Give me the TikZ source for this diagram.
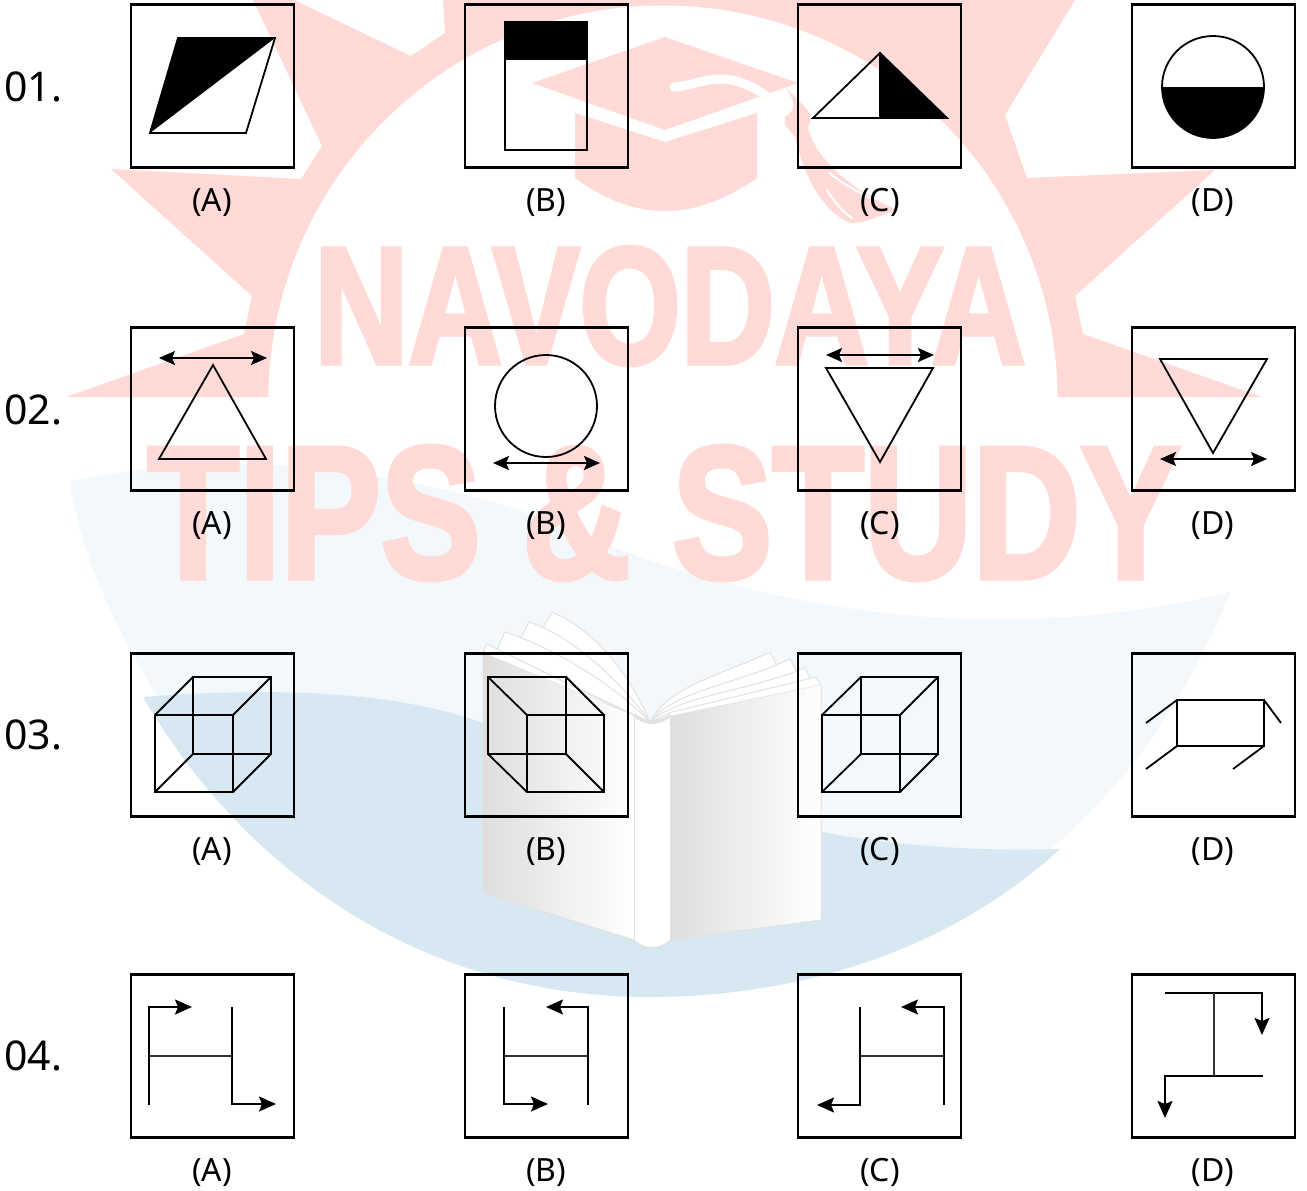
\documentclass[tikz,border=0pt]{standalone}
\usepackage{fontspec}
\usepackage{graphicx}
\setmainfont{Noto Sans}
\newfontfamily\wmfont[BoldFeatures={FakeBold=3}]{Liberation Sans}
\usetikzlibrary{arrows.meta}
\definecolor{wmpink}{HTML}{FFDAD6}
\definecolor{wmlight}{HTML}{F2F8FB}
\definecolor{wmblue}{HTML}{D8E8F3}
\definecolor{bookedge}{HTML}{E2E2E2}
\definecolor{bookdark}{HTML}{DEDEDE}
\tikzset{
  panel/.style={draw=black,line width=2.4pt,minimum size=163pt,inner sep=0pt,outer sep=0pt},
  optlabel/.style={font=\fontsize{32}{32}\selectfont,inner sep=0pt,text height=24pt,text depth=7pt},
  qnum/.style={font=\fontsize{41}{41}\selectfont,inner sep=0pt,anchor=west},
  figline/.style={draw=black,line width=1.8pt,line join=miter},
  thinline/.style={draw=black!80,line width=1.2pt},
  bigtip/.style={-{Stealth[length=17pt,width=15pt,inset=3pt]}},
  dbltip/.style={{Stealth[length=16pt,width=14pt,inset=3pt]}-{Stealth[length=16pt,width=14pt,inset=3pt]}},
  pagefill/.style={fill=white,draw=bookedge,line width=1pt,line join=round},
  wmtext/.style={text=wmpink,inner sep=0pt,font=\wmfont\bfseries}
}
\begin{document}
\begin{tikzpicture}[x=1pt,y=-1pt]
\useasboundingbox (0,0) rectangle (1307,1191);
\fill[white] (0,0) rectangle (1307,1191);
% watermark star and disc
\fill[wmpink] (253,0) -- (322,146) -- (301,179) -- (111,169) -- (252,296) -- (244,334) -- (66,397) -- (1262,397) -- (1083,334) -- (1075,296) -- (1215,170) -- (1027,178) -- (1005,115) -- (1075,0) -- (443,0) -- (445,33) -- (411,56) -- (294,0) -- cycle;
\fill[white] (663,400) circle[radius=394.5];
% cap
\fill[wmpink] (532,83) -- (665,37) -- (798,83) -- (665,130) -- cycle;
\fill[wmpink] (575,113) -- (665,142) -- (757,113) -- (757,178) .. controls (725,200) and (695,211) .. (665,211) .. controls (635,211) and (605,200) .. (575,178) -- cycle;
\draw[white,line width=9pt,line cap=round] (674,87) .. controls (700,85) and (715,72) .. (745,84) .. controls (765,92) and (778,105) .. (792,124);
\fill[wmpink] (787,89) -- (803,105) .. controls (811,112) and (812,120) .. (808,127) .. controls (812,150) and (840,185) .. (897,210) -- (863,222) -- (852,223) .. controls (825,215) and (805,180) .. (795,137) -- (785,125) -- (785,117) .. controls (790,112) and (800,110) .. cycle;
\draw[white,line width=2pt,line cap=round] (829,173) .. controls (845,185) and (858,192) .. (870,198);
\draw[white,line width=2pt,line cap=round] (827,190) .. controls (835,203) and (843,212) .. (852,218);
% waves
\fill[wmlight] (70,482) .. controls (180,455) and (340,455) .. (520,510) .. controls (700,590) and (950,660) .. (1230,592) .. controls (1130,850) and (900,997) .. (650,997) .. controls (300,1000) and (90,640) .. (70,482) -- cycle;
\fill[wmblue] (143,697) .. controls (300,685) and (420,695) .. (500,730) .. controls (620,785) and (740,820) .. (822,832) .. controls (880,843) and (960,852) .. (1060,849) .. controls (950,950) and (800,997) .. (650,997) .. controls (430,997) and (250,880) .. (143,697) -- cycle;
% watermark text
\node[wmtext,anchor=center] (wmone) at (670,306) {\resizebox{711pt}{116pt}{NAVODAYA}};
\node[wmtext,anchor=center] (wmtwo) at (664,513) {\resizebox{1033pt}{131pt}{TIPS \& STUDY}};
% book pages
\draw[pagefill] (552,612) .. controls (590,628) and (625,665) .. (650,722) -- (543,628) -- cycle;
\draw[pagefill] (529,622) .. controls (570,635) and (620,680) .. (650,722) -- (520,640) -- cycle;
\draw[pagefill] (505,632) .. controls (560,650) and (620,690) .. (650,722) -- (497,650) -- cycle;
\draw[pagefill] (487,644) -- (627,713) -- (650,722) -- (634,716) -- (483,653) -- cycle;
\draw[pagefill] (770,652) .. controls (720,676) and (670,685) .. (650,722) -- (778,668) -- cycle;
\draw[pagefill] (790,659) .. controls (735,685) and (675,690) .. (650,722) -- (797,672) -- cycle;
\draw[pagefill] (805,668) .. controls (745,692) and (680,695) .. (650,722) -- (811,680) -- cycle;
\draw[pagefill] (816,677) -- (672,712) -- (650,722) -- (672,716) -- (821,685) -- cycle;
% book covers
\shade[left color=bookdark,right color=white] (483,653) -- (634,716) -- (634,940) -- (483,893) -- cycle;
\shade[left color=bookdark,right color=white] (670,717) -- (821,685) -- (821,920) -- (670,941) -- cycle;
\fill[white] (634,715) .. controls (645,725) and (660,725) .. (670,715) -- (670,940) .. controls (662,950) and (642,950) .. (634,940) -- cycle;
\draw[bookedge,line width=1pt] (483,653) -- (483,893) -- (634,940) .. controls (642,950) and (662,950) .. (670,940) -- (821,920) -- (821,685);
\draw[bookedge,line width=1pt] (634,715) -- (634,940) (670,717) -- (670,940);
\draw[bookedge,line width=3pt] (634,715) .. controls (645,725) and (660,725) .. (670,715);
% panels
\foreach \cx/\l in {212.5/a,546.5/b,879.5/c,1213.5/d}{
  \foreach \cy/\r in {86/1,409/2,735/3,1056/4}{
    \node[panel] (\l\r) at (\cx,\cy) {};
  }
}
\foreach \cx/\l/\t in {212/a/A,546/b/B,880/c/C,1213/d/D}{
  \foreach \cy/\r in {202.5/1,525.5/2,851.5/3,1172.5/4}{
    \node[optlabel] (t\l\r) at (\cx,\cy) {(\t)};
  }
}
\node[qnum] (q1) at (4,87) {01.};
\node[qnum] (q2) at (4,410) {02.};
\node[qnum] (q3) at (4,735) {03.};
\node[qnum] (q4) at (4,1056) {04.};
% row 1
\fill[black] (178,38) -- (275,38) -- (150,133) -- cycle;
\draw[figline] (178,38) -- (275,38) -- (246,133) -- (150,133) -- cycle;
\draw[figline] (505,22) rectangle (587,150);
\fill[black] (505,22) rectangle (587,60);
\fill[black] (880,53) -- (947,118) -- (880,118) -- cycle;
\draw[figline] (813,118) -- (880,53) -- (947,118) -- cycle;
\draw[figline] (880,53) -- (880,118);
\fill[black] (1162,87) arc[start angle=180,end angle=360,x radius=51,y radius=-51] -- cycle;
\draw[figline] (1213,87) circle[radius=51];
% row 2
\draw[figline] (213,365) -- (266,459) -- (159,459) -- cycle;
\draw[figline,dbltip] (159,358) -- (267,358);
\draw[figline] (546,406) circle[radius=51];
\draw[figline,dbltip] (493,463) -- (600,463);
\draw[figline] (826,368) -- (933,368) -- (880,462) -- cycle;
\draw[figline,dbltip] (826,355) -- (934,355);
\draw[figline] (1160,359) -- (1267,359) -- (1213,453) -- cycle;
\draw[figline,dbltip] (1160,459) -- (1267,459);
% row 3
\draw[figline] (155,715) rectangle (233,792) (193,677) rectangle (271,754);
\draw[figline] (155,715) -- (193,677) (233,715) -- (271,677) (155,792) -- (193,754) (233,792) -- (271,754);
\draw[figline] (488,677) rectangle (566,754) (527,715) rectangle (604,792);
\draw[figline] (488,677) -- (527,715) (566,677) -- (604,715) (488,754) -- (527,792) (566,754) -- (604,792);
\draw[figline] (822,715) rectangle (900,792) (861,677) rectangle (938,754);
\draw[figline] (822,715) -- (861,677) (900,715) -- (938,677) (822,792) -- (861,754) (900,792) -- (938,754);
\draw[figline] (1177,700) rectangle (1264,746);
\draw[figline] (1177,700) -- (1146,723) (1264,700) -- (1281,723) (1177,746) -- (1146,769) (1264,746) -- (1233,769);
% row 4
\draw[figline,bigtip] (149,1105) -- (149,1007) -- (192,1007);
\draw[figline,bigtip] (232,1007) -- (232,1104) -- (276,1104);
\draw[thinline] (149,1056) -- (232,1056);
\draw[figline,bigtip] (504,1007) -- (504,1104) -- (548,1104);
\draw[figline,bigtip] (588,1105) -- (588,1007) -- (546,1007);
\draw[thinline] (504,1056) -- (588,1056);
\draw[figline,bigtip] (860,1007) -- (860,1105) -- (817,1105);
\draw[figline,bigtip] (944,1105) -- (944,1007) -- (901,1007);
\draw[thinline] (860,1056) -- (944,1056);
\draw[figline,bigtip] (1165,993) -- (1262,993) -- (1262,1035);
\draw[figline,bigtip] (1263,1076) -- (1165,1076) -- (1165,1118);
\draw[thinline] (1214,993) -- (1214,1076);
\end{tikzpicture}
\end{document}
